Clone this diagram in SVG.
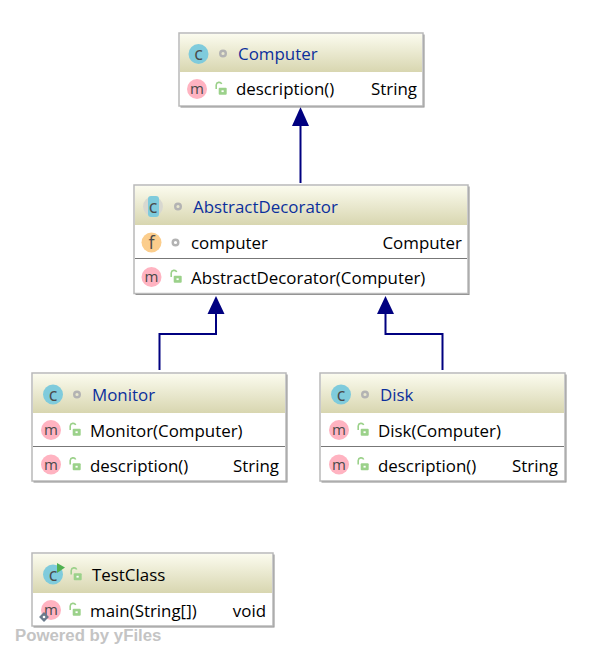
<svg xmlns="http://www.w3.org/2000/svg" width="597" height="658" viewBox="0 0 597 658">
<style>
text{font-family:"Open Sans","Noto Sans","DejaVu Sans",sans-serif;font-size:16.9px;fill:#000}
.t{fill:#0b2f9c}
.tk{fill:#000}
.box{fill:#fff;stroke:#b9b9b9;stroke-width:1.5}
.sh{fill:#8a8a8a}
.head{fill:url(#hg)}
.div{stroke:#777;stroke-width:1}
.ic{font-size:18px;fill:#4a4a4a;text-anchor:middle}
.im{font-size:15px;fill:#4a4a4a;text-anchor:middle}
.c{fill:#7fcbdc}.m{fill:#ffb3c1}.f{fill:#fbcd8c}
.dot{fill:none;stroke:#b3b3b3;stroke-width:2.4}
.lock{fill:#9bd18a}
.lk{fill:none;stroke:#9bd18a;stroke-width:1.6}
.edge{fill:none;stroke:#000080;stroke-width:2}
.wm{font-family:"Liberation Sans",Arial,sans-serif;font-size:16.8px;font-weight:bold;fill:#c4c4c4}
</style>
<defs>
<linearGradient id="hg" x1="0" y1="0" x2="0" y2="1"><stop offset="0" stop-color="#fbfbee"/><stop offset="1" stop-color="#d8d6b0"/></linearGradient>
<g id="pub"><path class="lk" d="M-4.800 -1V-5a2.900 2.900 0 0 1 5.500 -1"/><rect class="lock" x="-2.300" y="-2.300" width="8" height="7" rx="1"/><rect x="0.500" y="0.300" width="2.200" height="1.800" fill="#fff"/></g>
</defs>
<g id="connectors">
<path class="edge" d="M300.500 183V126"/><path d="M300.500 107L309 126H292Z" fill="#000080"/>
<path class="edge" d="M159.500 370V334H216V313"/><path d="M216 296L224.500 314H207.500Z" fill="#000080"/>
<path class="edge" d="M442.500 370V334H385.500V313"/><path d="M385.500 296L394 314H377Z" fill="#000080"/>
</g>
<g id="computer">
<rect class="sh" x="180.500" y="34.500" width="244" height="73"/>
<rect class="box" x="179" y="33" width="244" height="73"/>
<rect class="head" x="180" y="34" width="242" height="38"/>
<circle class="c" cx="198.500" cy="54" r="10"/><text class="ic" x="198.500" y="60">c</text>
<circle class="dot" cx="223" cy="53.500" r="2.800"/>
<text class="t" x="238" y="60">Computer</text>
<circle class="m" cx="197" cy="89" r="10"/><text class="im" x="197" y="94">m</text>
<use href="#pub" x="221" y="90"/>
<text x="236" y="95">description()</text>
<text x="417" y="95" text-anchor="end">String</text>
</g>
<g id="abstractdecorator">
<rect class="sh" x="135.500" y="186.500" width="334" height="108.500"/>
<rect class="box" x="134" y="185" width="334" height="108.500"/>
<rect class="head" x="135" y="186" width="332" height="39"/>
<circle cx="153" cy="206.500" r="10" fill="#d8d8d0"/><rect class="c" x="148" y="196" width="11" height="21" rx="3"/><text class="ic" x="153" y="212.500">c</text>
<circle class="dot" cx="178" cy="206.500" r="2.800"/>
<text class="t" x="193" y="213">AbstractDecorator</text>
<circle class="f" cx="151.500" cy="242.500" r="10"/><text class="ic" x="151.500" y="248.500">f</text>
<circle class="dot" cx="175.500" cy="242.500" r="2.800"/>
<text x="191" y="249">computer</text>
<text x="462" y="249" text-anchor="end">Computer</text>
<line class="div" x1="135" y1="258.500" x2="467" y2="258.500"/>
<circle class="m" cx="151.500" cy="277" r="10"/><text class="im" x="151.500" y="282">m</text>
<use href="#pub" x="176" y="278"/>
<text x="191" y="284">AbstractDecorator(Computer)</text>
</g>
<g id="monitor">
<rect class="sh" x="33.500" y="374.500" width="254" height="108"/>
<rect class="box" x="32" y="373" width="254" height="108"/>
<rect class="head" x="33" y="374" width="252" height="39"/>
<circle class="c" cx="53" cy="394.500" r="10"/><text class="ic" x="53" y="400.500">c</text>
<circle class="dot" cx="77" cy="394.500" r="2.800"/>
<text class="t" x="92" y="401">Monitor</text>
<circle class="m" cx="51" cy="430" r="10"/><text class="im" x="51" y="435">m</text>
<use href="#pub" x="75" y="431"/>
<text x="90" y="437">Monitor(Computer)</text>
<line class="div" x1="33" y1="446.500" x2="285" y2="446.500"/>
<circle class="m" cx="51" cy="464.500" r="10"/><text class="im" x="51" y="469.500">m</text>
<use href="#pub" x="75" y="465.500"/>
<text x="90" y="472">description()</text>
<text x="279" y="472" text-anchor="end">String</text>
</g>
<g id="disk">
<rect class="sh" x="321.500" y="374.500" width="245" height="108"/>
<rect class="box" x="320" y="373" width="245" height="108"/>
<rect class="head" x="321" y="374" width="243" height="39"/>
<circle class="c" cx="341" cy="394.500" r="10"/><text class="ic" x="341" y="400.500">c</text>
<circle class="dot" cx="365" cy="394.500" r="2.800"/>
<text class="t" x="380" y="401">Disk</text>
<circle class="m" cx="339" cy="430" r="10"/><text class="im" x="339" y="435">m</text>
<use href="#pub" x="363" y="431"/>
<text x="378" y="437">Disk(Computer)</text>
<line class="div" x1="321" y1="446.500" x2="564" y2="446.500"/>
<circle class="m" cx="339" cy="464.500" r="10"/><text class="im" x="339" y="469.500">m</text>
<use href="#pub" x="363" y="465.500"/>
<text x="378" y="472">description()</text>
<text x="558" y="472" text-anchor="end">String</text>
</g>
<g id="testclass">
<rect class="sh" x="33.500" y="554.500" width="241" height="73"/>
<rect class="box" x="32" y="553" width="241" height="73"/>
<rect class="head" x="33" y="554" width="239" height="39"/>
<circle class="c" cx="53" cy="574.500" r="10"/><text class="ic" x="53" y="580.500">c</text>
<path d="M57 563L65 567.500L57 573Z" fill="#4fb050"/>
<use href="#pub" x="76" y="575.500"/>
<text class="tk" x="92" y="581">TestClass</text>
<circle class="m" cx="51" cy="610" r="10"/><text class="im" x="51" y="615">m</text>
<rect x="40.500" y="613.500" width="7" height="7" fill="#6b7b8c" transform="rotate(45 44 617)"/><circle cx="44" cy="617" r="1.300" fill="#fff"/>
<use href="#pub" x="75" y="611"/>
<text x="90" y="617">main(String[])</text>
<text x="266" y="617" text-anchor="end">void</text>
</g>
<text class="wm" x="15" y="641">Powered by yFiles</text>
</svg>
